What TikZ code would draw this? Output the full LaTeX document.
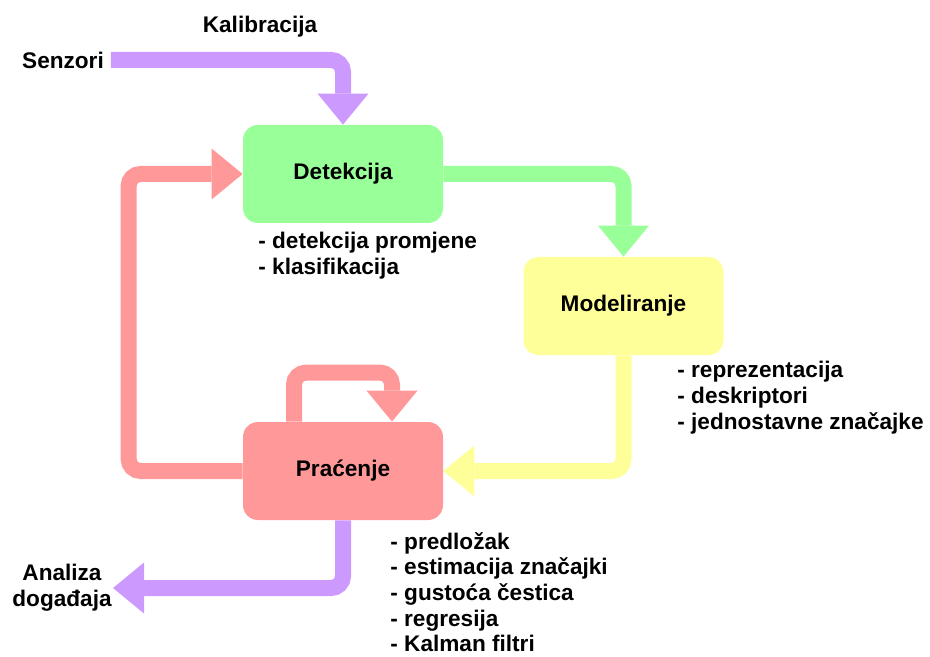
\documentclass[tikz,border=0pt]{standalone}
\usepackage{fontspec}
\setmainfont{Liberation Sans}
\usetikzlibrary{arrows.meta,calc}
\definecolor{lila}{HTML}{CC99FF}
\definecolor{zelena}{HTML}{99FF99}
\definecolor{zuta}{HTML}{FFFF99}
\definecolor{crvena}{HTML}{FF9999}
\tikzset{
  block/.style={rounded corners=7.5pt, minimum width=100pt, minimum height=49pt, inner sep=0pt},
  flow/.style={line width=8pt, rounded corners=6pt,
    -{Triangle[width=25.5pt, length=15.5pt, line width=0pt]}},
  notes/.style={align=left, anchor=north west, inner sep=0pt},
}
\begin{document}
\begin{tikzpicture}[x=0.5pt, y=-0.5pt, font=\bfseries\fontsize{11.3}{13}\selectfont]
    \useasboundingbox (0,0) rectangle (930,657);
    % blokovi
    \node[block, fill=zelena] (detekcija) at (343,174) {Detekcija};
    \node[block, fill=zuta] (modeliranje) at (623.5,306) {Modeliranje};
    \node[block, fill=crvena] (pracenje) at (343,471) {Praćenje};

    % ulazi i izlazi
    \node (senzori) at (63,60) {Senzori};
    \node (kalibracija) at (260,27) {Kalibracija};
    \node[align=center, inner sep=0.5pt] (analiza) at (62,588) {Analiza\\događaja};

    % tokovi
    \draw[flow, color=lila] (senzori.east) -| (detekcija.north);
    \draw[flow, color=zelena] (detekcija.east) -| (modeliranje.north);
    \draw[flow, color=zuta] (modeliranje.south) |- (pracenje.east);
    \draw[flow, color=crvena] (pracenje.west) -- ++(-114,0) |- (detekcija.west);
    \draw[flow, color=crvena] ($(pracenje.north)+(-49,0)$) -- ++(0,-49) -| ($(pracenje.north)+(49,0)$);
    \draw[flow, color=lila] (pracenje.south) |- (analiza.east);

    % opisi
    \node[notes] (notedet) at (258,232) {- detekcija promjene\\- klasifikacija};
    \node[notes] (notemod) at (677,361) {- reprezentacija\\- deskriptori\\- jednostavne značajke};
    \node[notes, font=\bfseries\fontsize{11.3}{12.8}\selectfont] (noteprac) at (390,532) {- predložak\\- estimacija značajki\\- gustoća čestica\\- regresija\\- Kalman filtri};
\end{tikzpicture}
\end{document}
